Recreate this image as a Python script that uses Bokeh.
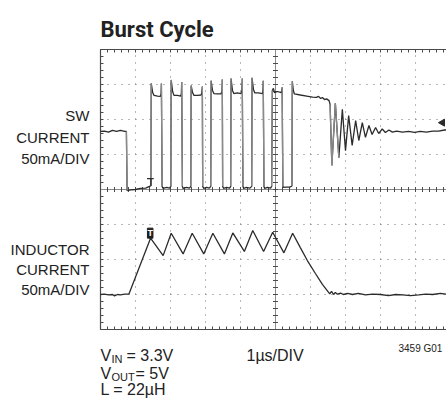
import numpy as np
from bokeh.plotting import figure
from bokeh.models import Label, Range1d
from bokeh.embed import file_html
from bokeh.resources import INLINE

# time in microseconds (1 us/div), levels in screen divisions (0..8)
sw_t = [0.00, 0.11, 0.23, 0.34, 0.46, 0.57, 0.69, 0.74, 0.76, 0.86, 1.00, 1.14, 1.29, 1.40, 1.44,
        1.45, 1.49, 1.53, 1.63, 1.71, 1.73, 1.74, 1.76, 1.79, 1.89, 1.97, 2.01,
        2.02, 2.06, 2.10, 2.20, 2.29, 2.31, 2.32, 2.34, 2.36, 2.46, 2.54, 2.58,
        2.59, 2.63, 2.67, 2.77, 2.87, 2.89, 2.91, 2.92, 2.95, 3.03, 3.11, 3.15,
        3.16, 3.20, 3.24, 3.34, 3.44, 3.47, 3.48, 3.49, 3.52, 3.60, 3.69, 3.72,
        3.73, 3.77, 3.81, 3.91, 4.01, 4.04, 4.05, 4.07, 4.09, 4.17, 4.27, 4.32,
        4.33, 4.37, 4.41, 4.51, 4.63, 4.64, 4.65, 4.67, 4.69, 4.77, 4.86, 4.89,
        4.91, 4.94, 4.97, 5.06, 5.16, 5.18, 5.19, 5.21, 5.23, 5.31, 5.41, 5.47,
        5.48, 5.51, 5.54, 5.71, 5.89, 6.06, 6.17, 6.23, 6.29, 6.34, 6.40, 6.46, 6.53, 6.56,
        6.61, 6.71, 6.81, 6.91, 7.00, 7.09, 7.19, 7.29, 7.38, 7.48, 7.57, 7.67, 7.76, 7.86,
        7.95, 8.05, 8.14, 8.24, 8.34,
        8.46, 8.63, 8.80, 8.97, 9.14, 9.31, 9.49, 9.66, 9.83, 9.89]
sw_y = [5.66, 5.67, 5.64, 5.69, 5.66, 5.69, 5.66, 5.66, 3.97, 3.99, 4.00, 4.03, 4.04, 4.09, 4.11,
        7.03, 6.77, 6.69, 6.67, 6.66, 6.74, 7.03, 4.09, 4.03, 4.06, 4.04, 4.09,
        7.13, 6.80, 6.69, 6.69, 6.67, 6.74, 7.07, 4.09, 4.03, 4.06, 4.04, 4.09,
        6.97, 6.77, 6.69, 6.69, 6.70, 6.74, 6.94, 4.09, 4.03, 4.06, 4.04, 4.09,
        7.11, 6.83, 6.74, 6.73, 6.73, 6.80, 7.14, 4.09, 4.03, 4.06, 4.04, 4.09,
        7.17, 6.83, 6.74, 6.76, 6.74, 6.83, 7.17, 4.09, 4.03, 4.06, 4.04, 4.09,
        7.19, 6.86, 6.76, 6.76, 6.74, 6.83, 7.11, 4.09, 4.03, 4.06, 4.04, 4.09,
        6.83, 6.89, 6.77, 6.80, 6.77, 6.83, 6.92, 4.09, 4.06, 4.07, 4.07, 4.10,
        7.09, 6.83, 6.73, 6.70, 6.67, 6.64, 6.63, 6.66, 6.60, 6.63, 6.57, 6.59, 6.54, 6.43,
        4.69, 6.46, 4.91, 6.29, 5.11, 6.11, 5.26, 5.97, 5.40, 5.91, 5.49, 5.83, 5.57, 5.77,
        5.60, 5.73, 5.63, 5.70, 5.64,
        5.67, 5.64, 5.66, 5.63, 5.66, 5.64, 5.67, 5.67, 5.70, 5.70]

ind_t = [0.00, 0.11, 0.23, 0.34, 0.40, 0.49, 0.57, 0.69, 0.81,
         1.43, 1.79, 2.02, 2.36, 2.62, 2.95, 3.21, 3.54, 3.78, 4.11, 4.35, 4.66, 4.92, 5.24, 5.49,
         5.71, 5.91, 6.14, 6.34, 6.55,
         6.60, 6.66, 6.71, 6.77, 6.86, 6.94, 7.06, 7.20, 7.37, 7.57, 7.77, 8.00, 8.23, 8.43,
         8.63, 8.86, 9.09, 9.29, 9.49, 9.71, 9.89]
ind_y = [1.00, 1.01, 0.99, 1.00, 0.96, 1.00, 0.99, 1.01, 1.01,
         2.61, 2.11, 2.75, 2.16, 2.75, 2.16, 2.75, 2.16, 2.76, 2.23, 2.83, 2.23, 2.78, 2.19, 2.75,
         2.34, 1.97, 1.60, 1.29, 1.02,
         1.09, 1.00, 1.06, 1.01, 1.04, 1.00, 1.03, 1.00, 1.03, 0.99, 1.01, 1.00, 0.97, 1.00,
         0.99, 0.97, 0.99, 1.01, 1.00, 1.03, 1.01]

trigger_t = 1.44
trigger_level = 4.31
ind_trigger = (1.42, 2.61)
ch1_marker = (9.77, 5.91)

title = "Burst Cycle"
top_label = ["SW", "CURRENT", "50mA/DIV"]
bottom_label = ["INDUCTOR", "CURRENT", "50mA/DIV"]
time_base = "1µs/DIV"
fig_id = "3459 G01"

x_divs = 10
y_divs = 8
PX = 35.0  # pixels per division

TRACE = "#2b2b2b"
EDGE = "#8a8a8a"
FRAME = "#4a4a4a"
DOTS = "#707070"

W, H = 446, 400
LEFT, TOP = 100, 49   # graticule origin inside the canvas
x0 = -LEFT / PX
x1 = (W - LEFT) / PX
y1 = y_divs + TOP / PX
y0 = y1 - H / PX

p = figure(width=W, height=H, output_backend="svg", toolbar_location=None,
           x_range=Range1d(x0, x1), y_range=Range1d(y0, y1),
           x_axis_location=None, y_axis_location=None,
           min_border=0)
p.outline_line_color = None
p.xgrid.visible = False
p.ygrid.visible = False
p.background_fill_color = "white"
p.border_fill_color = "white"

xr_end = x1 + 0.2

# dotted graticule lines
vx = np.arange(1, x_divs)
p.segment(x0=vx, y0=np.zeros(len(vx)), x1=vx, y1=np.full(len(vx), y_divs),
          line_color=DOTS, line_dash="1 6", line_width=1)
hy = np.arange(1, y_divs)
p.segment(x0=np.zeros(len(hy)), y0=hy, x1=np.full(len(hy), xr_end), y1=hy,
          line_color=DOTS, line_dash="1 6", line_width=1)

# frame (right edge lies outside the picture)
p.segment(x0=[0, 0, 0], y0=[0, y_divs, 0], x1=[xr_end, xr_end, 0], y1=[0, y_divs, y_divs],
          line_color=FRAME, line_width=1.2)

xm = np.arange(0, x_divs + 0.001, 0.2)
ym = np.arange(0, y_divs + 0.001, 0.2)
t = 3 / PX
h = 2.5 / PX
# inward ticks on frame
p.segment(x0=xm, y0=np.zeros(len(xm)), x1=xm, y1=np.full(len(xm), t), line_color=FRAME)
p.segment(x0=xm, y0=np.full(len(xm), y_divs), x1=xm, y1=np.full(len(xm), y_divs - t), line_color=FRAME)
p.segment(x0=np.zeros(len(ym)), y0=ym, x1=np.full(len(ym), t), y1=ym, line_color=FRAME)

# centre cross with tick marks
p.segment(x0=[0], y0=[y_divs / 2], x1=[xr_end], y1=[y_divs / 2], line_color="#8a8a8a", line_width=1)
p.segment(x0=[x_divs / 2], y0=[0], x1=[x_divs / 2], y1=[y_divs], line_color="#8a8a8a", line_width=1)
p.segment(x0=xm, y0=np.full(len(xm), y_divs / 2 - h), x1=xm, y1=np.full(len(xm), y_divs / 2 + h),
          line_color=FRAME, line_width=1)
p.segment(x0=np.full(len(ym), x_divs / 2 - h), y0=ym, x1=np.full(len(ym), x_divs / 2 + h), y1=ym,
          line_color=FRAME, line_width=1)

def trace(ts, ys):
    p.line(ts, ys, line_color=TRACE, line_width=1.3)
    ta, ya = np.array(ts), np.array(ys)
    dx, dy = np.diff(ta), np.diff(ya)
    steep = (np.abs(dy) > 15 * np.maximum(np.abs(dx), 1e-6)) & (np.abs(dy) > 1.0)
    p.segment(x0=ta[:-1][steep], y0=ya[:-1][steep], x1=ta[1:][steep], y1=ya[1:][steep],
              line_color=EDGE, line_width=1.3)

trace(sw_t, sw_y)
trace(ind_t, ind_y)

# trigger markers
p.segment(x0=[trigger_t - 0.11], y0=[trigger_level], x1=[trigger_t + 0.08], y1=[trigger_level],
          line_color=TRACE, line_width=1.3)
p.segment(x0=[trigger_t], y0=[trigger_level], x1=[trigger_t], y1=[sw_y[14]],
          line_color=TRACE, line_width=1.3)
p.scatter([ch1_marker[0]], [ch1_marker[1]], marker="triangle", angle=np.pi / 2, size=7,
          fill_color=TRACE, line_color=TRACE)
p.add_layout(Label(x=ind_trigger[0], y=ind_trigger[1], text="T", text_color="white",
                   text_font="Liberation Sans", text_font_style="bold", text_font_size="9px",
                   text_align="center", text_baseline="bottom",
                   background_fill_color="#1e1e1e", border_line_color="#1e1e1e"))

TXT = "#222222"
FONT = "Liberation Sans"

def d(px):
    return (px - LEFT) / PX

def v(py):
    return (TOP + y_divs * PX - py) / PX

def lab(px, py, text, size="15px", align="left", font=FONT, style="normal"):
    p.add_layout(Label(x=d(px), y=v(py), text=text, text_font=font, text_font_size=size,
                       text_font_style=style, text_color=TXT, text_align=align,
                       text_baseline="alphabetic"))

lab(100, 28.5, title, size="22px", font="Roboto", style="bold")

for txt, py in zip(top_label, [115, 136.5, 157.5]):
    lab(89, py, txt, align="right")
for txt, py in zip(bottom_label, [248.5, 268.5, 288.5]):
    lab(89, py, txt, align="right")

lab(100, 355, "V", size="16px")
lab(111, 358.5, "IN", size="11px")
lab(126, 355, " = 3.3V", size="16px")
lab(100, 372.5, "V", size="16px")
lab(111, 376, "OUT", size="11px")
lab(135, 372.5, " = 5V", size="16px")
lab(100, 389, "L = 22µH", size="16px")
lab(246, 355, time_base, size="16px")
lab(398, 347.5, fig_id, size="10px")

open("out.html", "w").write(file_html(p, INLINE))
